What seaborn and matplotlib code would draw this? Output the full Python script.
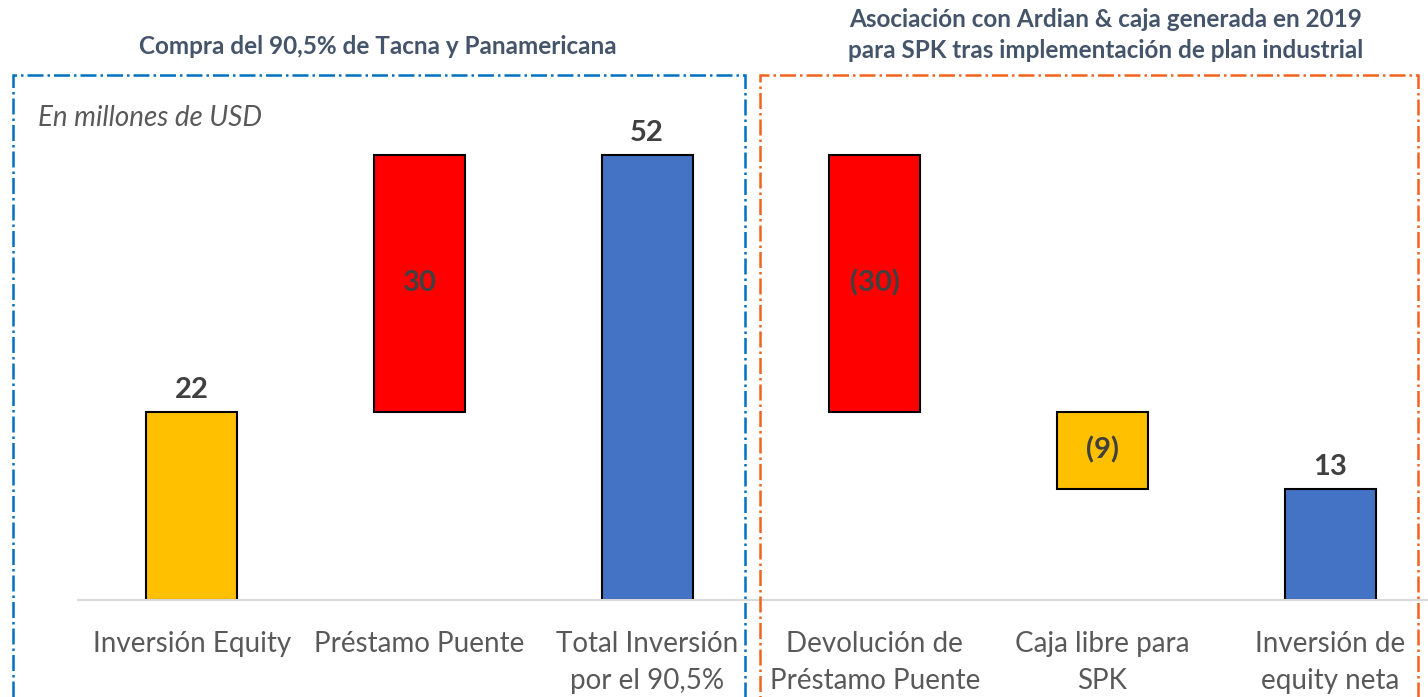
import matplotlib
matplotlib.use("Agg")
import matplotlib.pyplot as plt
from matplotlib.patches import Rectangle
import seaborn as sns
import pandas as pd
import numpy as np

sns.set_style("white")
plt.rcParams["font.family"] = ["Lato", "DejaVu Sans"]

# -------------------------------
# DATA
# -------------------------------
categories = ["Inversión Equity", "Préstamo Puente", "Total Inversión\npor el 90,5%",
              "Devolución de\nPréstamo Puente", "Caja libre para\nSPK", "Inversión de\nequity neta"]
values = [22, 30, 52, -30, -9, 13]
is_total = [True, False, True, False, False, True]
bar_colors = ["#FFC000", "#FF0000", "#4472C4", "#FF0000", "#FFC000", "#4472C4"]

title_left = "Compra del 90,5% de Tacna y Panamericana"
title_right = "Asociación con Ardian & caja generada en 2019\npara SPK tras implementación de plan industrial"
units_note = "En millones de USD"

# -------------------------------
# WATERFALL GEOMETRY
# -------------------------------
bottoms, heights = [], []
running = 0
for v, tot in zip(values, is_total):
    if tot:
        bottoms.append(0)
        heights.append(v)
        running = v
    else:
        new = running + v
        bottoms.append(min(running, new))
        heights.append(abs(v))
        running = new

df = pd.DataFrame({"cat": categories, "height": heights})

fig = plt.figure(figsize=(14.28, 6.97), dpi=100)
ax = fig.add_axes([78 / 1428, 0.139, 1366 / 1428, 0.737])

sns.barplot(data=df, x="cat", y="height", hue="cat", palette=bar_colors, saturation=1,
            width=0.4, edgecolor="black", linewidth=1.5, legend=False, ax=ax)

for patch, b in zip(ax.patches, bottoms):
    patch.set_y(b)

ax.set_ylim(0, 60)
ax.set_xlim(-0.5, 5.5)
ax.set_xlabel("")
ax.set_ylabel("")
ax.set_yticks([])
for side in ["top", "right", "left"]:
    ax.spines[side].set_visible(False)
ax.spines["bottom"].set_color("#D9D9D9")
ax.spines["bottom"].set_linewidth(1.5)
ax.tick_params(axis="x", length=0, pad=22, labelsize=20, colors="#595959")
for lbl in ax.get_xticklabels():
    lbl.set_linespacing(1.55)
    lbl.set_verticalalignment("top")

# value labels
for i, (v, b, h, tot) in enumerate(zip(values, bottoms, heights, is_total)):
    txt = str(v) if v >= 0 else f"({abs(v)})"
    if b == 0:
        ax.text(i, b + h + 1.0, txt, ha="center", va="bottom", fontsize=21,
                fontweight="bold", color="#404040")
    else:
        ax.text(i, b + h / 2, txt, ha="center", va="center", fontsize=21,
                fontweight="bold", color="#404040")

# titles and note
fig.text(378 / 1428, 1 - 47 / 697, title_left, ha="center", va="center",
         fontsize=17.5, fontweight="bold", color="#44546A")
fig.text(1106 / 1428, 1 - 35 / 697, title_right, ha="center", va="center",
         fontsize=17.5, fontweight="bold", color="#44546A", linespacing=1.45)
fig.text(38 / 1428, 1 - 118 / 697, units_note, ha="left", va="center",
         fontsize=20, style="italic", color="#595959")

# dash-dot frames
fig.patches.append(Rectangle((13 / 1428, -0.05), (745 - 13) / 1428, (697 - 75) / 697 + 0.05,
                             transform=fig.transFigure, fill=False, edgecolor="#0070C0",
                             linewidth=1.8, linestyle="-.", zorder=0))
fig.patches.append(Rectangle((760 / 1428, -0.05), (1418 - 760) / 1428, (697 - 75) / 697 + 0.05,
                             transform=fig.transFigure, fill=False, edgecolor="#F0641E",
                             linewidth=1.8, linestyle="-.", zorder=0))

fig.savefig("out.png", dpi=100)
